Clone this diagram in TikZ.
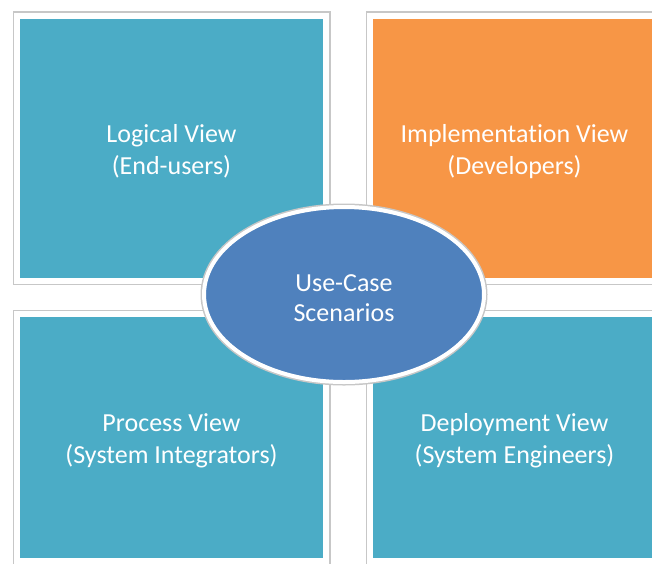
\documentclass[tikz,border=0pt]{standalone}
\usepackage{fontspec}
\setmainfont{Carlito}[Ligatures=NoCommon]
\usetikzlibrary{shapes.geometric}

\definecolor{viewteal}{HTML}{4BACC6}
\definecolor{vieworange}{HTML}{F79646}
\definecolor{casesblue}{HTML}{4F81BD}

\begin{document}
\begin{tikzpicture}
            [
                x=1pt, y=-1pt,
                every node/.style={
                    text=white, align=center, inner sep=0pt,
                    font=\fontsize{26}{32}\selectfont
                },
                viewbox/.style={
                    rectangle, draw=white, line width=6pt,
                    preaction={draw=black!22, line width=9pt},
                    minimum width=#1, minimum height=265pt,
                    text height=57pt
                },
                viewbox/.default=309pt,
                scenarios/.style={
                    ellipse, fill=casesblue, draw=white, line width=4pt,
                    preaction={draw=black!22, line width=7pt},
                    minimum width=280pt, minimum height=175pt,
                    text height=55pt,
                    font=\fontsize{26}{30}\selectfont
                }
            ]
            \useasboundingbox (0,0) rectangle (652,563);
            \clip (0,0) rectangle (652,563);
            \fill[white] (0,0) rectangle (652,563);

            % the four views
            \node[viewbox, fill=viewteal] (logical) at (171.5,148)
                {Logical View\\(End-users)};
            \node[viewbox=289pt, fill=vieworange] (implementation) at (514.5,148)
                {Implementation View\\(Developers)};
            \node[viewbox, fill=viewteal, minimum height=247pt] (process) at (171.5,437.5)
                {Process View\\(System Integrators)};
            \node[viewbox=289pt, fill=viewteal, minimum height=247pt] (deployment) at (514.5,437.5)
                {Deployment View\\(System Engineers)};

            % scenarios in the middle
            \node[scenarios] (usecase) at (344,294.5) {Use-Case\\Scenarios};
\end{tikzpicture}
\end{document}
